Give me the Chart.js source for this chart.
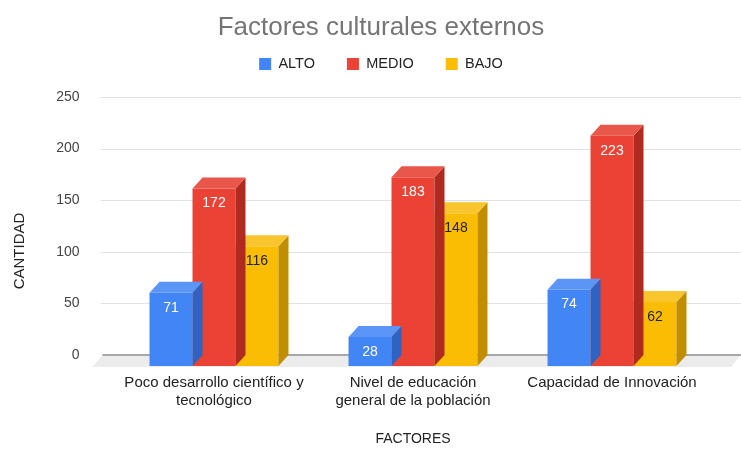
<!DOCTYPE html>
<html><head><meta charset="utf-8">
<script src="https://cdn.jsdelivr.net/npm/chart.js@4.4.1/dist/chart.umd.min.js"></script>
<style>html,body{margin:0;padding:0;background:#fff;}#wrap{width:741px;height:449px;}</style>
</head><body><div id="wrap"><canvas id="c" width="741" height="449"></canvas></div>
<script>
const categories = [["Poco desarrollo científico y", "tecnológico"], ["Nivel de educación", "general de la población"], ["Capacidad de Innovación"]];
const seriesNames = ["ALTO", "MEDIO", "BAJO"];
const alto = [71, 28, 74];
const medio = [172, 183, 223];
const bajo = [116, 148, 62];
const yTicks = [0, 50, 100, 150, 200, 250];
const chartTitle = "Factores culturales externos";
const xTitle = "FACTORES";
const yTitle = "CANTIDAD";

const colors = ['#4285F4', '#EA4335', '#FBBC04'];
const sideColors = ['#2E63C2', '#B02A1F', '#C08E00'];
const topColors = ['#5B95F6', '#E9574A', '#F9C52E'];
const labelColors = ['#ffffff', '#ffffff', '#222222'];
const DX = 10, DY = 11;
const FONT = "'Liberation Sans', Arial, sans-serif";

const threeD = {
  id: 'threeD',
  beforeDatasetsDraw(chart) {
    const {ctx, chartArea: ca, scales: {y}} = chart;
    const yb = y.getPixelForValue(0);
    ctx.save();
    ctx.strokeStyle = '#e2e2e2';
    ctx.lineWidth = 1;
    yTicks.forEach(v => {
      if (v === 0) return;
      const py = Math.round(y.getPixelForValue(v) - DY) + 0.5;
      ctx.beginPath(); ctx.moveTo(ca.left - 14, py); ctx.lineTo(chart.width, py); ctx.stroke();
    });
    // floor
    ctx.fillStyle = '#ececec';
    ctx.beginPath();
    ctx.moveTo(ca.left - 12, yb - DY);
    ctx.lineTo(chart.width, yb - DY);
    ctx.lineTo(chart.width - DX, yb + 1);
    ctx.lineTo(ca.left - 22, yb + 1);
    ctx.closePath(); ctx.fill();
    ctx.strokeStyle = '#a8a8a8';
    ctx.lineWidth = 2;
    ctx.beginPath(); ctx.moveTo(ca.left - 12, yb - DY); ctx.lineTo(chart.width, yb - DY); ctx.stroke();
    // y title
    ctx.fillStyle = '#222';
    ctx.font = '15px ' + FONT;
    ctx.textAlign = 'center'; ctx.textBaseline = 'middle';
    ctx.translate(20, 251); ctx.rotate(-Math.PI / 2);
    ctx.fillText(yTitle, 0, 0);
    ctx.restore();
  },
  afterDatasetDraw(chart, args) {
    const {ctx} = chart;
    const i = args.index;
    ctx.save();
    args.meta.data.forEach(bar => {
      const l = bar.x - bar.width / 2, r = bar.x + bar.width / 2, t = bar.y, b = bar.base;
      ctx.fillStyle = sideColors[i];
      ctx.beginPath();
      ctx.moveTo(r, t); ctx.lineTo(r + DX, t - DY); ctx.lineTo(r + DX, b - DY); ctx.lineTo(r, b);
      ctx.closePath(); ctx.fill();
      ctx.fillStyle = topColors[i];
      ctx.beginPath();
      ctx.moveTo(l, t); ctx.lineTo(l + DX, t - DY); ctx.lineTo(r + DX, t - DY); ctx.lineTo(r, t);
      ctx.closePath(); ctx.fill();
    });
    ctx.restore();
  },
  afterDatasetsDraw(chart) {
    const {ctx} = chart;
    ctx.save();
    ctx.font = '14px ' + FONT;
    ctx.textAlign = 'center'; ctx.textBaseline = 'middle';
    chart.data.datasets.forEach((ds, i) => {
      chart.getDatasetMeta(i).data.forEach((bar, j) => {
        ctx.fillStyle = labelColors[i];
        ctx.fillText(String(ds.data[j]), bar.x, bar.y + 15);
      });
    });
    ctx.restore();
  }
};

new Chart(document.getElementById('c'), {
  type: 'bar',
  data: {
    labels: categories,
    datasets: seriesNames.map((n, i) => ({
      label: n,
      data: [alto, medio, bajo][i],
      backgroundColor: colors[i],
      borderWidth: 0,
      categoryPercentage: 0.648,
      barPercentage: 1
    }))
  },
  options: {
    responsive: false,
    animation: false,
    layout: {padding: {left: 21, right: 0, top: 0, bottom: 0}},
    plugins: {
      title: {display: true, text: chartTitle, color: '#757575', font: {family: FONT, size: 26, weight: 'normal'}, padding: {top: 12, bottom: -18.45}},
      subtitle: {display: true, text: '', weight: 500, font: {size: 10, lineHeight: 1}, padding: {top: 16.75, bottom: 0}},
      legend: {display: true, labels: {boxWidth: 12, boxHeight: 12, color: '#222', font: {family: FONT, size: 14.5}, padding: 32}},
      tooltip: {enabled: false}
    },
    scales: {
      x: {
        grid: {display: false, drawTicks: false}, border: {display: false},
        ticks: {color: '#222', font: {family: FONT, size: 15}, padding: 8, maxRotation: 0, autoSkip: false},
        title: {display: true, text: xTitle, color: '#222', font: {family: FONT, size: 14}, padding: {top: 0, bottom: 1}},
        afterFit(s) { s.height = 83; }
      },
      y: {
        min: 0, max: 250,
        grid: {display: false, drawTicks: false}, border: {display: false},
        ticks: {stepSize: 50, labelOffset: -11, padding: 35, color: '#444', font: {family: FONT, size: 14}},
        afterFit(s) { s.width = 93.5; }
      },
      y2: {
        position: 'right', display: true, min: 0, max: 250,
        grid: {display: false, drawTicks: false}, border: {display: false},
        ticks: {display: false},
        afterFit(s) { s.width = 29.5; }
      }
    }
  },
  plugins: [threeD]
});
</script></body></html>
